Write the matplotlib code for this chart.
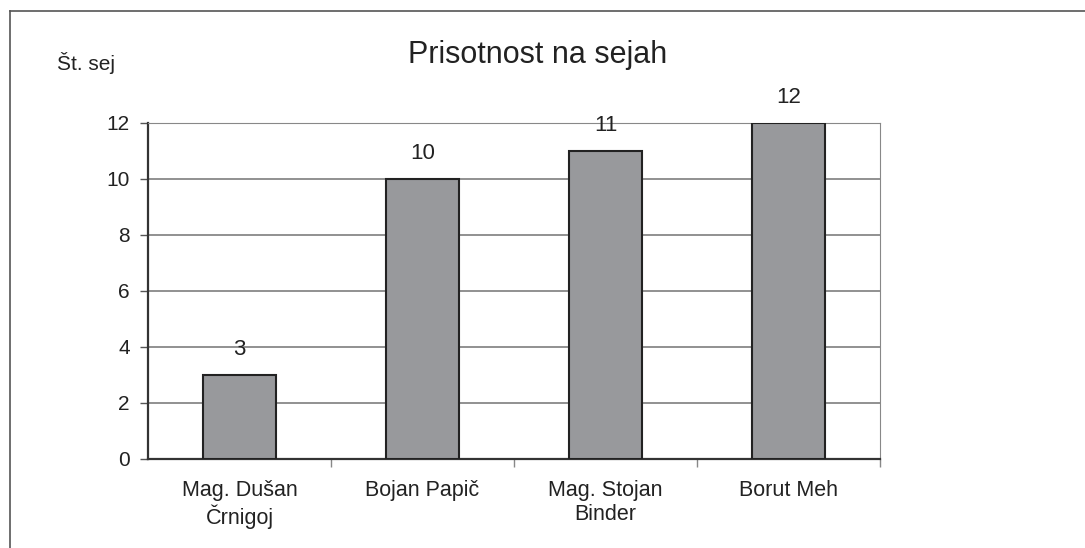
import matplotlib.pyplot as plt
from matplotlib.lines import Line2D

# prisotnost na sejah
names = ["Mag. Dušan\nČrnigoj", "Bojan Papič", "Mag. Stojan\nBinder", "Borut Meh"]
seje = [3, 10, 11, 12]
yticks = [0, 2, 4, 6, 8, 10, 12]

plt.rcParams['font.family'] = ['Liberation Sans', 'DejaVu Sans']

fig = plt.figure(figsize=(10.85, 5.48), dpi=100)
ax = fig.add_axes([148/1085, 1 - 459/548, (880 - 148)/1085, (459 - 123)/548])

x = list(range(len(names)))
ax.bar(x, seje, width=0.4, color='#98999c', edgecolor='#222222', linewidth=1.5, zorder=3)
for xi, v in zip(x, seje):
	ax.annotate(str(v), (xi, v), xytext=(0, 11), textcoords='offset points',
		ha='center', va='bottom', fontsize=16, color='#222222', annotation_clip=False)

ax.set_xlim(-0.5, len(names) - 0.5)
ax.set_ylim(0, 12)
ax.set_yticks(yticks)
ax.tick_params(axis='y', labelsize=15, length=6, width=1, color='#555555', pad=7, labelcolor='#222222')
ax.yaxis.grid(True, color='#888888', linewidth=1.3, zorder=0)

ax.set_xticks(x)
ax.set_xticklabels(names, fontsize=15.5, color='#222222', linespacing=1.2)
ax.set_xticks([0.5, 1.5, 2.5, 3.5], minor=True)
ax.tick_params(axis='x', which='major', length=0, pad=15)
ax.tick_params(axis='x', which='minor', length=6, width=1, color='#888888', direction='out')

ax.spines['left'].set_color('#333333')
ax.spines['left'].set_linewidth(1.6)
ax.spines['bottom'].set_color('#333333')
ax.spines['bottom'].set_linewidth(1.6)
ax.spines['top'].set_color('#888888')
ax.spines['right'].set_color('#888888')

fig.text(538/1085, 1 - 55/548, 'Prisotnost na sejah', ha='center', va='center', fontsize=22, color='#222222')
fig.text(57/1085, 1 - 63/548, 'Št. sej', ha='left', va='center', fontsize=15, color='#222222')

# okvir
fig.add_artist(Line2D([10/1085, 10/1085], [0, 1 - 11/548], transform=fig.transFigure, color='#555555', linewidth=1.2))
fig.add_artist(Line2D([10/1085, 1], [1 - 11/548, 1 - 11/548], transform=fig.transFigure, color='#555555', linewidth=1.2))

fig.savefig('out.png', dpi=100)
